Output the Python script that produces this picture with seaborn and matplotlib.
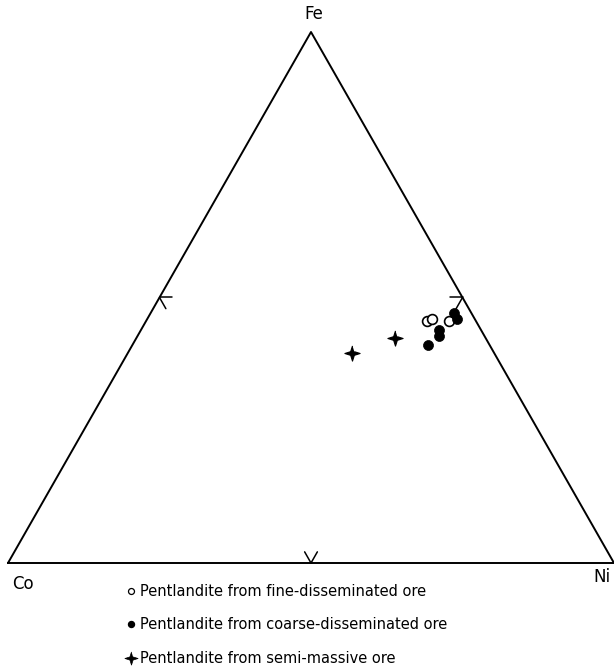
import matplotlib
matplotlib.use("Agg")
import matplotlib.pyplot as plt
from matplotlib.lines import Line2D
import seaborn as sns
import numpy as np

# ternary compositions (fractions), Co = 1 - Fe - Ni
fine_fe = [0.456, 0.459, 0.456]
fine_ni = [0.463, 0.470, 0.500]
coarse_fe = [0.411, 0.439, 0.428, 0.470, 0.459]
coarse_ni = [0.487, 0.491, 0.498, 0.501, 0.512]
semi_fe = [0.395, 0.424]
semi_ni = [0.370, 0.426]

labels = ["Pentlandite from fine-disseminated ore",
          "Pentlandite from coarse-disseminated ore",
          "Pentlandite from semi-massive ore"]

h = np.sqrt(3) / 2


def to_xy(fe, ni):
    fe = np.asarray(fe)
    ni = np.asarray(ni)
    return ni + fe / 2, fe * h


# four pointed star marker
star = []
for k in range(8):
    a = np.pi / 2 + k * np.pi / 4
    r = 1.0 if k % 2 == 0 else 0.34
    star.append((r * np.cos(a), r * np.sin(a)))

sns.set_style("white")
plt.rcParams['font.family'] = ['DejaVu Sans']
plt.rcParams['text.color'] = 'black'

fig = plt.figure(figsize=(6.14, 6.68), dpi=100)
ax = fig.add_axes([8 / 614, 105 / 668, 606 / 614, 531 / 668])
ax.set_xlim(0, 1)
ax.set_ylim(0, h)
ax.axis("off")

# triangle frame
ax.plot([0, 1, 0.5, 0], [0, 0, h, 0], color="black", lw=1.4, clip_on=False)

# arrow ticks at edge midpoints (arms at inward normal +-30 deg)
L = 0.021
for (mx, my), normal in [((0.5, 0), 90), ((0.25, h / 2), -30), ((0.75, h / 2), 210)]:
    for d in (normal - 30, normal + 30):
        t = np.radians(d)
        ax.plot([mx, mx + L * np.cos(t)], [my, my + L * np.sin(t)],
                color="black", lw=1.1, clip_on=False)

x, y = to_xy(fine_fe, fine_ni)
sns.scatterplot(x=x, y=y, ax=ax, marker="o", s=50, color="black",
                facecolor="white", edgecolor="black", linewidth=1.2, zorder=3)
x, y = to_xy(coarse_fe, coarse_ni)
sns.scatterplot(x=x, y=y, ax=ax, marker="o", s=52, color="black",
                edgecolor="black", linewidth=0.5, zorder=3)
x, y = to_xy(semi_fe, semi_ni)
sns.scatterplot(x=x, y=y, ax=ax, marker=star, s=120, color="black",
                edgecolor="black", linewidth=0.8, zorder=3)

ax.annotate("Fe", (0.5, h), xytext=(2, 12.6), textcoords="offset points",
            ha="center", va="center", fontsize=12, annotation_clip=False)
ax.annotate("Co", (0, 0), xytext=(11, -15), textcoords="offset points",
            ha="center", va="center", fontsize=12, annotation_clip=False)
ax.annotate("Ni", (1, 0), xytext=(-15, -10), textcoords="offset points",
            ha="left", va="center", fontsize=12, annotation_clip=False)

handles = [
    Line2D([], [], ls="", marker="o", ms=4.3, mfc="white", mec="black", mew=0.9),
    Line2D([], [], ls="", marker="o", ms=4.3, mfc="black", mec="black"),
    Line2D([], [], ls="", marker=star, ms=9.5, mfc="black", mec="black", mew=0.5),
]
fig.legend(handles, labels, loc="upper left",
           bbox_to_anchor=(127 / 614, 1 - 584 / 668), frameon=False,
           fontsize=10.5, handlelength=0.6, handletextpad=0.3,
           labelspacing=1.26, borderpad=0, borderaxespad=0)

fig.savefig("out.png", dpi=100)
